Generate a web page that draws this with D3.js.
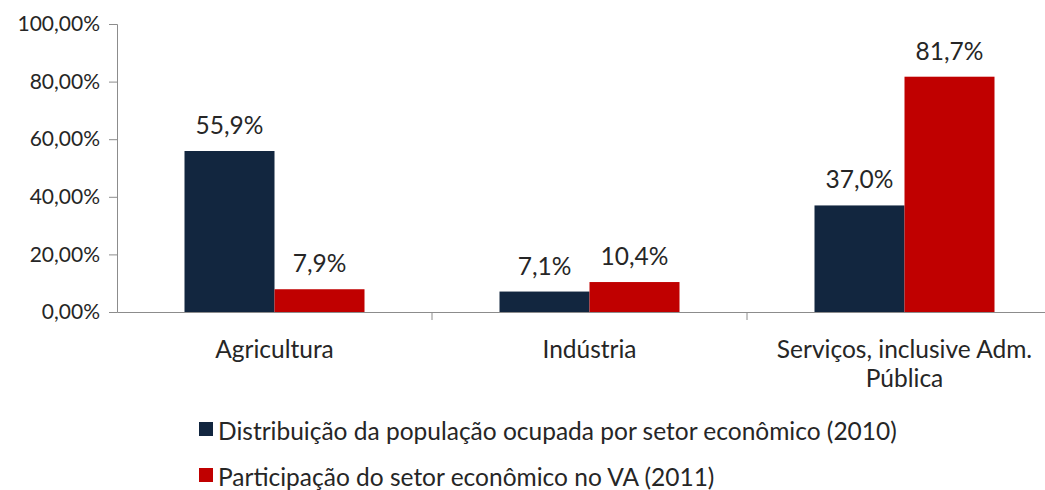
<!DOCTYPE html>
<html>
<head>
<meta charset="utf-8">
<script src="https://cdn.jsdelivr.net/npm/d3@7"></script>
<style>
  body { margin: 0; background: #fff; }
  text { font-family: Lato, "Open Sans", sans-serif; fill: #262626; }
</style>
</head>
<body>
<div id="container"></div>
<script>
let w = 1045;
let h = 490;

// data
let categories = ["Agricultura", "Indústria", "Serviços, inclusive Adm.|Pública"];
let seriesNames = ["Distribuição da população ocupada por setor econômico (2010)", "Participação do setor econômico no VA (2011)"];
let populacao = [55.9, 7.1, 37.0];
let participacao = [7.9, 10.4, 81.7];
let yTicks = [0, 20, 40, 60, 80, 100];
let colors = ["#12263f", "#c00000"];

let viz = d3.select("#container").append("svg")
    .attr("width", w)
    .attr("height", h)
    .style("background-color", "white")
;

let padLeft = 117, padRight = 1062, padTop = 24, padBottom = 312;

let x = d3.scaleBand().domain(categories).range([padLeft, padRight]).paddingInner(0).paddingOuter(0);
let xInner = d3.scaleBand().domain([0, 1]).range([0, x.bandwidth()]).paddingInner(0).paddingOuter(0.75);
let y = d3.scaleLinear().domain([0, 100]).range([padBottom, padTop]);

// y axis
let yAxis = viz.append("g")
    .attr("transform", "translate(" + padLeft + ",0)")
    .call(d3.axisLeft(y).tickValues(yTicks).tickSize(8).tickPadding(9)
      .tickFormat(d => d3.format(".2f")(d).replace(".", ",") + "%"));
yAxis.selectAll("text").attr("font-size", 21).style("font-family", "Lato, sans-serif").attr("fill", "#262626");
yAxis.selectAll("line, path").attr("stroke", "#8c8c8c");

// x axis
let xAxis = viz.append("g")
    .attr("transform", "translate(0," + padBottom + ")")
    .call(d3.axisBottom(x).tickSize(0).tickFormat(""));
xAxis.select("path").attr("stroke", "#8c8c8c");
xAxis.selectAll(".tick").remove();
// category separators
categories.forEach(function(c, i) {
  if (i > 0) {
    viz.append("line")
        .attr("x1", x(c)).attr("x2", x(c))
        .attr("y1", padBottom).attr("y2", padBottom + 8)
        .attr("stroke", "#8c8c8c");
  }
});

let rows = categories.map((c, i) => ({cat: c, vals: [populacao[i], participacao[i]]}));

let groups = viz.selectAll(".grp").data(rows).enter()
  .append("g")
    .attr("class", "grp")
    .attr("transform", d => "translate(" + x(d.cat) + ",0)")
;

groups.selectAll("rect").data(d => d.vals).enter()
  .append("rect")
    .attr("x", (d, i) => xInner(i))
    .attr("y", d => y(d))
    .attr("width", xInner.bandwidth())
    .attr("height", d => padBottom - y(d))
    .attr("fill", (d, i) => colors[i])
;

groups.selectAll(".lbl").data(d => d.vals).enter()
  .append("text")
    .attr("class", "lbl")
    .attr("x", (d, i) => xInner(i) + xInner.bandwidth() / 2)
    .attr("y", d => y(d) - 17)
    .attr("text-anchor", "middle")
    .attr("font-size", 24.5)
    .text(d => d3.format(".1f")(d).replace(".", ",") + "%")
;

// category labels
groups.each(function(d) {
  let lines = d.cat.split("|");
  let t = d3.select(this).append("text")
      .attr("text-anchor", "middle")
      .attr("font-size", 24.5)
      .attr("y", 358);
  lines.forEach(function(l, i) {
    t.append("tspan")
        .attr("x", x.bandwidth() / 2)
        .attr("dy", i == 0 ? 0 : 29)
        .text(l);
  });
});

// legend
seriesNames.forEach(function(s, i) {
  let ly = 440 + i * 46;
  viz.append("rect")
      .attr("x", 199).attr("y", ly - 18)
      .attr("width", 14).attr("height", 14)
      .attr("fill", colors[i]);
  viz.append("text")
      .attr("x", 218).attr("y", ly)
      .attr("font-size", 24.5)
      .text(s);
});
</script>
</body>
</html>
